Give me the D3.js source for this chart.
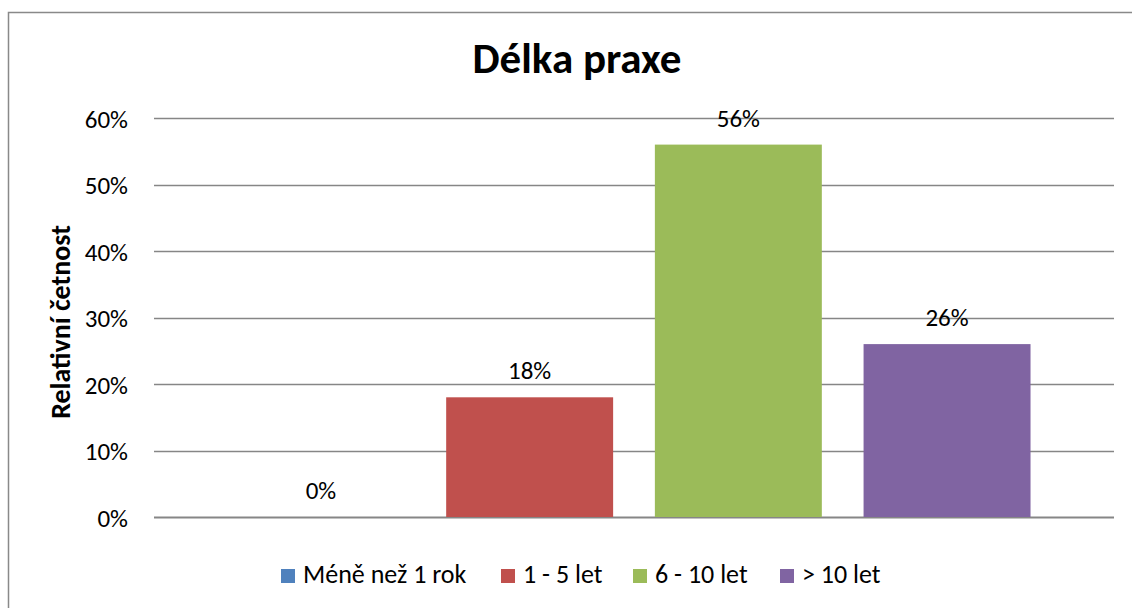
<!DOCTYPE html>
<html><head><meta charset="utf-8">
<script src="https://cdn.jsdelivr.net/npm/d3@7"></script>
<style>
body{margin:0;background:#fff;}
svg{display:block;font-family:Carlito, Calibri, Lato, sans-serif;}
</style></head>
<body><svg id="c" width="1132" height="608"></svg>
<script>
const title = "Délka praxe";
const yTitle = "Relativní četnost";
const series = ["Méně než 1 rok", "1 - 5 let", "6 - 10 let", "> 10 let"];
const values = [0, 0.18, 0.56, 0.26];
const colors = ["#4F81BD", "#C0504D", "#9BBB59", "#8064A2"];
const yTicks = [0, 0.1, 0.2, 0.3, 0.4, 0.5, 0.6];
const FONT = "Carlito, Calibri, Lato, sans-serif";

const svg = d3.select("#c");
svg.append("rect").attr("x", 8.5).attr("y", 12.5).attr("width", 1300).attr("height", 800)
  .attr("fill", "none").attr("stroke", "#898989").attr("stroke-width", 1.5);

const plotL = 154, plotR = 1114, plotT = 118, plotB = 517;
const y = d3.scaleLinear().domain([0, 0.6]).range([plotB, plotT]);
const x = d3.scaleBand().domain(series).range([plotL, plotR]).paddingInner(0.2).paddingOuter(0.4);

// gridlines
svg.append("g").selectAll("line").data(yTicks).join("line")
  .attr("x1", plotL).attr("x2", plotR)
  .attr("y1", d => Math.round(y(d)) + 0.5).attr("y2", d => Math.round(y(d)) + 0.5)
  .attr("stroke", "#868686").attr("stroke-width", d => d === 0 ? 2 : 1.5);

// y axis labels
const yAxis = d3.axisLeft(y).tickValues(yTicks).tickFormat(d3.format(".0%")).tickSize(0).tickPadding(0);
const ga = svg.append("g").attr("transform", `translate(128,0)`).call(yAxis)
  .attr("font-family", FONT).attr("font-size", 25);
ga.select(".domain").remove();
ga.selectAll("text").attr("fill", "#000").attr("dy", "0.36em");

// bars
svg.append("g").selectAll("rect").data(values).join("rect")
  .attr("x", (d, i) => x(series[i])).attr("width", x.bandwidth())
  .attr("y", d => y(d)).attr("height", d => y(0) - y(d))
  .attr("fill", (d, i) => colors[i]);

// value labels
svg.append("g").selectAll("text").data(values).join("text")
  .attr("x", (d, i) => x(series[i]) + x.bandwidth() / 2)
  .attr("y", d => y(d) - 18)
  .attr("text-anchor", "middle").attr("font-size", 25).attr("fill", "#000")
  .text(d => d3.format(".0%")(d));

// title
svg.append("text").attr("x", 577).attr("y", 73).attr("text-anchor", "middle")
  .attr("font-size", 43).attr("font-weight", "bold").attr("fill", "#000").text(title);

// y title
svg.append("text").attr("transform", `translate(70,322) rotate(-90)`)
  .attr("text-anchor", "middle").attr("font-size", 28).attr("font-weight", "bold").attr("fill", "#000").text(yTitle);

// legend
const legX = [281, 501, 633, 780];
const lg = svg.append("g").selectAll("g").data(series).join("g")
  .attr("transform", (d, i) => `translate(${legX[i]},569)`);
lg.append("rect").attr("width", 14).attr("height", 14).attr("fill", (d, i) => colors[i]);
lg.append("text").attr("x", 22).attr("y", 14).attr("font-size", 26).attr("fill", "#000").text(d => d);
</script></body></html>
